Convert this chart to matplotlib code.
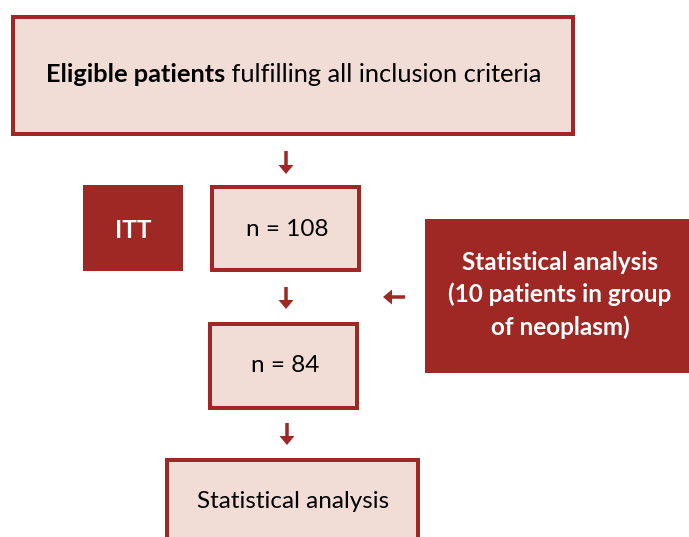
import matplotlib
matplotlib.use("Agg")
import matplotlib.pyplot as plt
from matplotlib.patches import Rectangle, FancyArrow

plt.rcParams['font.family'] = ['Lato', 'DejaVu Sans']

DARK = '#9F2724'
LIGHT = '#F1DCD6'

# flowchart content
top_bold = "Eligible patients"
top_rest = " fulfilling all inclusion criteria"
itt_label = "ITT"
n_itt = 108
n_pp = 84
side_label = "Statistical analysis\n(10 patients in group\nof neoplasm)"
bottom_label = "Statistical analysis"

W, H = 689, 537
fig = plt.figure(figsize=(W / 100, H / 100), dpi=100)
ax = fig.add_axes([0, 0, 1, 1])
ax.set_xlim(0, W)
ax.set_ylim(H, 0)
ax.axis('off')


def box(x0, y0, x1, y1, dark=False):
    lw = 4
    if dark:
        ax.add_patch(Rectangle((x0, y0), x1 - x0, y1 - y0, facecolor=DARK,
                               edgecolor='none'))
    else:
        ax.add_patch(Rectangle((x0 + lw / 2, y0 + lw / 2), x1 - x0 - lw, y1 - y0 - lw,
                               facecolor=LIGHT, edgecolor=DARK, linewidth=lw * 0.72))


def arrow(x, y, dx, dy):
    ax.add_patch(FancyArrow(x, y, dx, dy, width=3.5, head_width=15, head_length=9,
                            length_includes_head=True, color=DARK, lw=0))


# boxes
box(11, 15, 575, 136)
box(83, 185, 183, 271, dark=True)
box(210, 185, 361, 272)
box(425, 219, 689, 373, dark=True)
box(208, 322, 359, 410)
box(165, 458, 420, 545)

# arrows
arrow(286, 151, 0, 23)
arrow(286, 287, 0, 22)
arrow(287, 423, 0, 22)
arrow(405, 297, -22, 0)

# top text: bold part + regular part, centered together
fs_top = 18.3
renderer = fig.canvas.get_renderer()
t1 = ax.text(0, 75, top_bold, fontsize=fs_top, fontweight='bold', va='center', ha='left')
t2 = ax.text(0, 75, top_rest, fontsize=fs_top, va='center', ha='left')
w1 = t1.get_window_extent(renderer).width
w2 = t2.get_window_extent(renderer).width
x_start = 294 - (w1 + w2) / 2
t1.set_x(x_start)
t2.set_x(x_start + w1)

fs = 17.5
ax.text(133, 230, itt_label, fontsize=fs, fontweight='bold', color='white',
        ha='center', va='center')
ax.text(287, 230, f"n = {n_itt}", fontsize=fs, ha='center', va='center')
ax.text(285, 366, f"n = {n_pp}", fontsize=fs, ha='center', va='center')
ax.text(560, 295, side_label, fontsize=fs, fontweight='bold', color='white',
        ha='center', va='center', linespacing=1.45)
ax.text(293, 501, bottom_label, fontsize=fs, ha='center', va='center')

fig.savefig("out.png", dpi=100)
